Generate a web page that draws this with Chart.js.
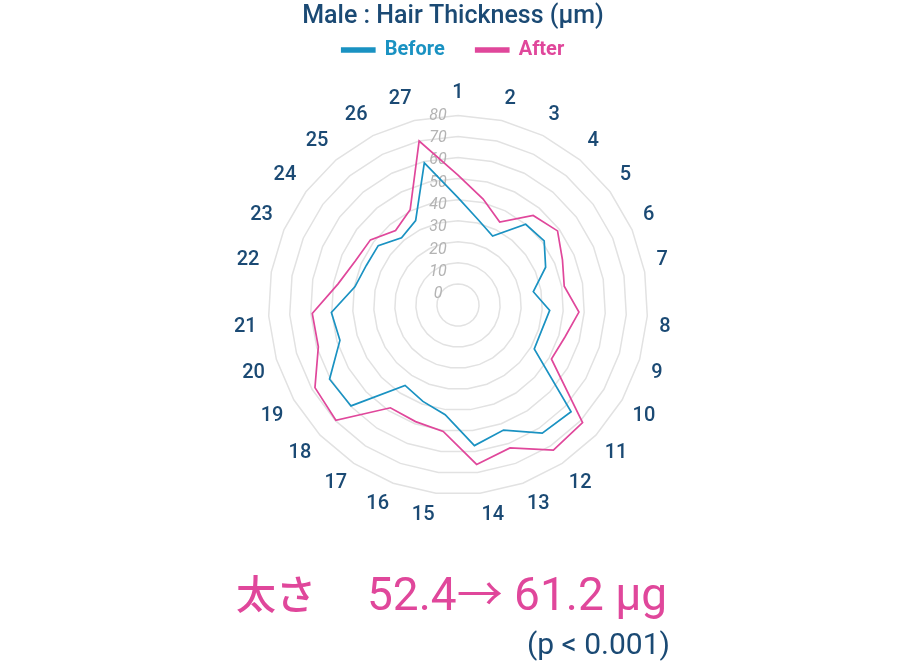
<!DOCTYPE html>
<html>
<head>
<meta charset="utf-8">
<script src="https://cdn.jsdelivr.net/npm/chart.js@4.4.0/dist/chart.umd.min.js"></script>
<style>
  html, body { margin: 0; padding: 0; background: #fff; }
  #wrap { position: relative; width: 904px; height: 664px; }
  #wrap canvas { position: absolute; left: 0; top: 0; }
  .note { position: absolute; white-space: nowrap; line-height: 1; font-family: Roboto, "Noto Sans CJK JP", sans-serif; }
  #label1 { left: 236px; top: 572px; font-size: 40px; font-weight: 500; color: #e0479b; font-family: "Noto Sans CJK JP", sans-serif; }
  #label2 { left: 367px; top: 571px; font-size: 46px; color: #e0479b; }
  #label3 { right: 234px; top: 629px; font-size: 30px; color: #1b4a74; }
</style>
</head>
<body>
<div id="wrap">
  <canvas id="radar" width="904" height="664"></canvas>
  <div class="note" id="label1">太さ</div>
  <div class="note" id="label2">52.4→ 61.2 µg</div>
  <div class="note" id="label3">(p &lt; 0.001)</div>
</div>
<script>
"use strict"

// spoke labels, 1..27
const spokes = ['1', '2', '3', '4', '5', '6', '7', '8', '9', '10', '11', '12', '13', '14',
    '15', '16', '17', '18', '19', '20', '21', '22', '23', '24', '25', '26', '27'];

// hair thickness (µm)
const before = [41, 31.6, 26.6, 40, 41, 35.3, 26.3, 33.6, 31.5, 31.8, 63.8, 62.8, 53.2, 57.2,
    42.4, 38.7, 35.7, 59.8, 60.4, 48.5, 50.2, 39.7, 37.4, 37.2, 31.7, 34.8, 59.3];
const after = [51.6, 41.7, 34.1, 45.5, 48.9, 44, 41.2, 47.5, 43, 41.2, 71.3, 72.4, 62.2, 66.2,
    50.4, 48.9, 48.4, 69.7, 68.4, 59.2, 59.3, 47.8, 43, 41.8, 36.1, 40.6, 70];

const tickValues = [0, 10, 20, 30, 40, 50, 60, 70, 80];

const NAVY = '#1b4a74';
const BLUE = '#1a92c2';
const PINK = '#e0479b';

// tick numbers sit a little left of the centre line, in grey italics
const tickLabels = {
    id: 'tickLabels',
    beforeDatasetsDraw(chart) {
        const scale = chart.scales.r;
        const ctx = chart.ctx;
        ctx.save();
        ctx.font = 'italic 16px Roboto';
        ctx.fillStyle = '#b3b3b3';
        ctx.textAlign = 'center';
        ctx.textBaseline = 'middle';
        tickValues.forEach(v => {
            const d = scale.getDistanceFromCenterForValue(v);
            ctx.fillText(String(v), scale.xCenter - 20, scale.yCenter - (d * 1.06 - 11.5));
        });
        ctx.restore();
    }
};

const ctx = document.getElementById('radar').getContext('2d');
new Chart(ctx, {
    type: 'radar',
    data: {
        labels: spokes,
        datasets: [
            {
                label: 'Before',
                data: before,
                borderColor: BLUE,
                backgroundColor: BLUE,
                borderWidth: 1.7,
                pointRadius: 0,
                fill: false,
            },
            {
                label: 'After',
                data: after,
                borderColor: PINK,
                backgroundColor: PINK,
                borderWidth: 1.7,
                pointRadius: 0,
                fill: false,
            }
        ]
    },
    options: {
        responsive: false,
        animation: false,
        layout: {
            padding: { left: 229, right: 227, top: 0, bottom: 124 }
        },
        plugins: {
            title: {
                display: true,
                text: 'Male : Hair Thickness (µm)',
                color: NAVY,
                font: { family: 'Roboto', size: 25, weight: '500' },
                padding: { top: 2, bottom: -23 }
            },
            legend: {
                labels: {
                    boxWidth: 33,
                    boxHeight: 4,
                    padding: 31,
                    font: { family: 'Roboto', size: 20, weight: 'bold' },
                    generateLabels(chart) {
                        const items = Chart.defaults.plugins.legend.labels.generateLabels(chart);
                        items.forEach(it => { it.fontColor = it.strokeStyle; });
                        return items;
                    }
                }
            },
            tooltip: { enabled: false }
        },
        scales: {
            r: {
                min: -10,
                max: 80,
                ticks: { stepSize: 10, display: false },
                grid: { color: '#e2e2e2', lineWidth: 1.5 },
                angleLines: { display: false },
                pointLabels: {
                    padding: 12,
                    color: NAVY,
                    font: { family: 'Roboto', size: 20, weight: '500', lineHeight: 1 }
                }
            }
        }
    },
    plugins: [tickLabels]
});
</script>
</body>
</html>
